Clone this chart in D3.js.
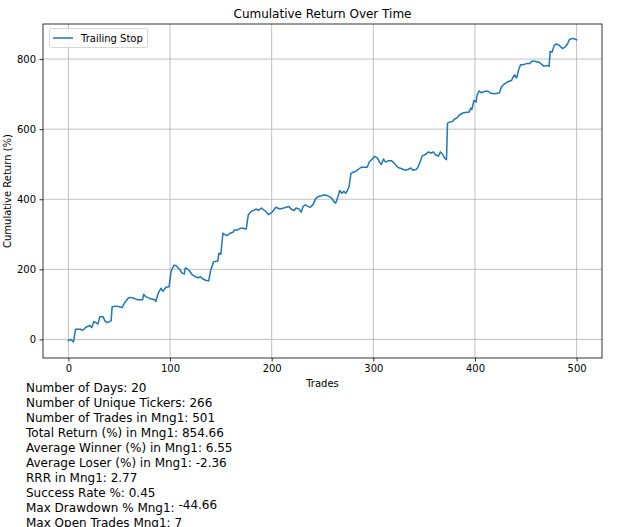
<!DOCTYPE html>
<html>
<head>
<meta charset="utf-8">
<script src="https://cdn.jsdelivr.net/npm/d3@7"></script>
<style>
  html, body { margin: 0; padding: 0; background: #fff; }
  svg { display: block; font-family: "DejaVu Sans", sans-serif; }
</style>
</head>
<body>
<svg id="chart" width="623" height="527"></svg>
<script>
// ---- data ----
const trades = [0,2,5,7,12,14,17,19,21,23,25,27,29,31,34,36,38,42,43,47,50,53,55,59,61,65,68,73,74,76,80,85,86,88,91,93,96,99,101,102,104,106,109,112,114,115,117,119,122,125,128,130,132,135,138,140,143,147,148,150,152,154,156,159,162,163,166,169,172,175,177,180,182,185,187,190,192,194,197,200,201,204,208,211,214,217,219,222,224,227,229,231,233,236,238,241,243,246,249,252,255,259,261,263,265,267,269,271,273,276,278,280,283,286,288,294,296,299,301,304,306,308,310,312,315,318,321,324,328,331,334,337,339,342,344,346,348,352,354,357,359,361,364,366,368,370,372,373,375,378,380,382,385,388,392,394,396,397,399,401,402,404,406,410,413,415,418,421,424,426,428,431,433,436,437,439,441,443,445,447,451,454,456,459,463,466,468,471,473,474,476,478,480,483,486,489,491,493,496,498,500];
const cumReturn = [-3,0,-7,29,29,26,34,37,40,34,51,48,44,65,65,53,48,53,93,95,93,91,103,118,120,117,113,113,129,122,117,113,108,129,146,137,149,150,194,201,212,210,201,189,187,204,201,196,184,179,176,179,173,169,167,198,222,224,246,243,303,299,296,303,306,312,312,317,317,315,356,366,368,372,368,375,370,366,356,362,365,377,372,374,377,379,372,368,375,372,363,380,384,379,377,386,401,408,410,413,410,403,394,389,406,425,417,423,417,434,474,477,480,487,491,491,506,515,522,518,506,499,515,506,510,510,501,491,487,483,485,489,483,485,491,506,523,529,535,532,535,527,523,535,529,518,513,617,620,622,629,631,641,646,648,648,660,656,682,677,696,709,704,708,708,703,701,702,703,720,727,733,736,739,746,755,746,770,784,784,787,787,794,794,791,784,779,782,779,822,820,839,843,839,830,835,843,856,859,857,855];
const xTicks = [0,100,200,300,400,500];
const yTicks = [0,200,400,600,800];
const seriesName = "Trailing Stop";
const titleText = "Cumulative Return Over Time";
const xLabel = "Trades";
const yLabel = "Cumulative Return (%)";
const statsLines = [
  "Number of Days: 20",
  "Number of Unique Tickers: 266",
  "Number of Trades in Mng1: 501",
  "Total Return (%) in Mng1: 854.66",
  "Average Winner (%) in Mng1: 6.55",
  "Average Loser (%) in Mng1: -2.36",
  "RRR in Mng1: 2.77",
  "Success Rate %: 0.45"
];
const drawdownLabel = "Max Drawdown % Mng1: ";
const drawdownValue = "-44.66";
const openTradesLine = "Max Open Trades Mng1: 7";

// ---- layout ----
const svg = d3.select("#chart");
const L = 43, R = 602, T = 24, B = 358;

const x = d3.scaleLinear().domain([-25, 525]).range([L, R]);
const y = d3.scaleLinear().domain([-53, 900]).range([B, T]);

// grid
const grid = svg.append("g");
grid.selectAll(".gx").data(xTicks).enter().append("line")
  .attr("x1", d => x(d)).attr("x2", d => x(d))
  .attr("y1", T).attr("y2", B)
  .attr("stroke", "#b0b0b0").attr("stroke-width", 0.8);
grid.selectAll(".gy").data(yTicks).enter().append("line")
  .attr("y1", d => y(d)).attr("y2", d => y(d))
  .attr("x1", L).attr("x2", R)
  .attr("stroke", "#b0b0b0").attr("stroke-width", 0.8);

// line
const pts = trades.map((t, i) => [t, cumReturn[i]]);
const line = d3.line().x(d => x(d[0])).y(d => y(d[1]));
svg.append("path").datum(pts)
  .attr("d", line)
  .attr("fill", "none")
  .attr("stroke", "#1f77b4")
  .attr("stroke-width", 1.5)
  .attr("stroke-linejoin", "round")
  .attr("stroke-linecap", "square");

// axes
const xAxis = d3.axisBottom(x).tickValues(xTicks).tickSize(3.5).tickPadding(3.5).tickFormat(d3.format("d"));
const yAxis = d3.axisLeft(y).tickValues(yTicks).tickSize(3.5).tickPadding(3.5).tickFormat(d3.format("d"));
const gx = svg.append("g").attr("transform", `translate(0,${B})`).call(xAxis);
const gy = svg.append("g").attr("transform", `translate(${L},0)`).call(yAxis);
[gx, gy].forEach(g => {
  g.select(".domain").remove();
  g.selectAll("text").attr("font-family", "DejaVu Sans").attr("font-size", 10).attr("fill", "#000");
  g.selectAll("line").attr("stroke", "#000").attr("stroke-width", 0.8);
});

// spines
svg.append("rect").attr("x", L).attr("y", T).attr("width", R - L).attr("height", B - T)
  .attr("fill", "none").attr("stroke", "#000").attr("stroke-width", 0.8);

// title & labels
svg.append("text").attr("x", (L + R) / 2).attr("y", 18).attr("text-anchor", "middle")
  .attr("font-size", 12).text(titleText);
svg.append("text").attr("x", (L + R) / 2).attr("y", 387).attr("text-anchor", "middle")
  .attr("font-size", 10).text(xLabel);
svg.append("text").attr("transform", `translate(11,${(T + B) / 2}) rotate(-90)`)
  .attr("text-anchor", "middle").attr("font-size", 10).text(yLabel);

// legend
const lg = svg.append("g");
lg.append("rect").attr("x", 49.5).attr("y", 28.5).attr("width", 98).attr("height", 19).attr("rx", 2)
  .attr("fill", "#fff").attr("fill-opacity", 0.8).attr("stroke", "#cccccc").attr("stroke-width", 0.8);
lg.append("line").attr("x1", 53).attr("x2", 73).attr("y1", 38).attr("y2", 38)
  .attr("stroke", "#1f77b4").attr("stroke-width", 1.5);
lg.append("text").attr("x", 81).attr("y", 41.5).attr("font-size", 10).text(seriesName);

// stats text block
const st = svg.append("g").attr("font-size", 12).attr("fill", "#000");
statsLines.forEach((s, i) => {
  st.append("text").attr("x", 26).attr("y", 392 + 15 * i).text(s);
});
const dd = st.append("text").attr("x", 26).attr("y", 392 + 15 * statsLines.length);
dd.append("tspan").text(drawdownLabel);
dd.append("tspan").attr("dy", -3).text(drawdownValue);
st.append("text").attr("x", 26).attr("y", 392 + 15 * (statsLines.length + 1)).text(openTradesLine);
</script>
</body>
</html>
